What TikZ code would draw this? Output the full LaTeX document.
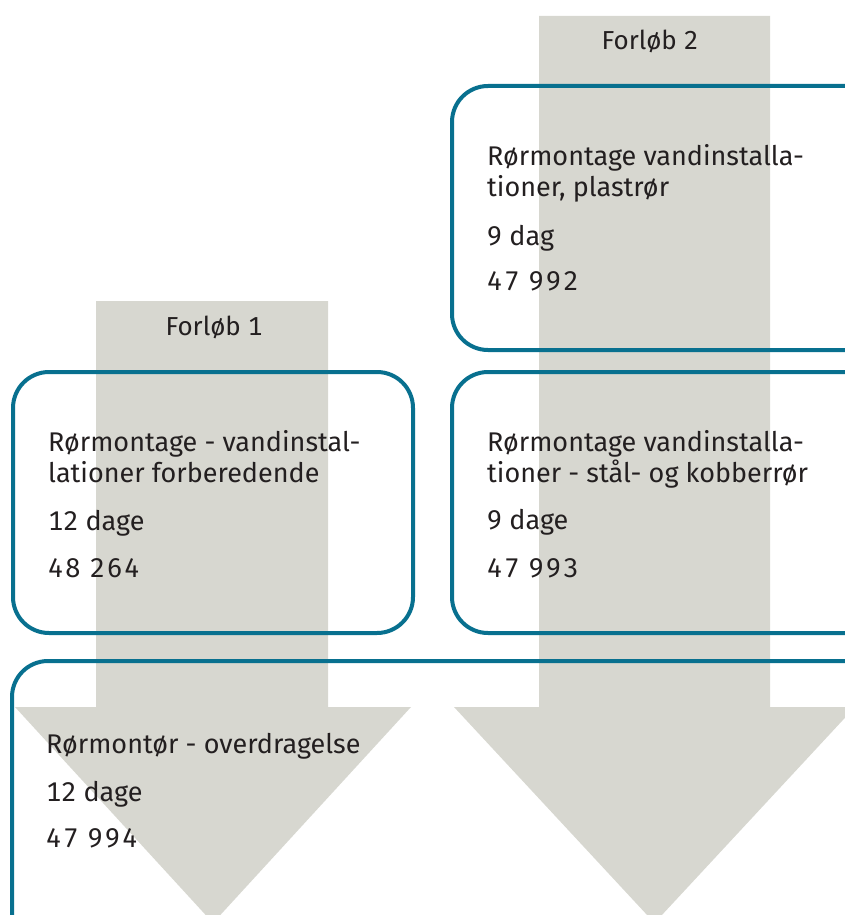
\documentclass[tikz,border=0pt]{standalone}
\usepackage{fontspec}
\setmainfont[Numbers={Lining,Monospaced}]{Fira Sans}
\newfontfamily\numfont[Numbers={Lining,Monospaced},LetterSpace=8]{Fira Sans}
\definecolor{arrowgrey}{HTML}{D7D7D0}
\definecolor{boxteal}{HTML}{08708F}
\definecolor{txt}{HTML}{231F20}
\begin{document}
\begin{tikzpicture}[x=1pt,y=-1pt,
  flow/.style={fill=arrowgrey},
  card/.style={draw=boxteal,line width=4pt,rounded corners=36pt},
  lbl/.style={anchor=base west,inner sep=0pt,text=txt,align=left,
    font=\fontsize{27}{31}\selectfont},
  num/.style={lbl,font=\numfont\fontsize{27}{31}\selectfont},
  head/.style={anchor=base,inner sep=0pt,text=txt,font=\fontsize{26}{31}\selectfont}]
\useasboundingbox (0,0) rectangle (845,915);
\clip (0,0) rectangle (845,915);
% arrows
\fill[flow] (96,301) -- (328,301) -- (328,707) -- (411,707) -- (213,923) -- (15,707) -- (96,707) -- cycle;
\fill[flow] (539,16) -- (770,16) -- (770,707) -- (855,707) -- (654.5,923) -- (454,707) -- (539,707) -- cycle;
% headings
\node[head] (f2) at (650,50) {Forløb 2};
\node[head] (f1) at (214,335) {Forløb 1};
% boxes
\draw[card] (452,86) rectangle (885,350);
\draw[card] (13,372) rectangle (413,633);
\draw[card] (452,372) rectangle (885,633);
\draw[card] (12,661) rectangle (885,960);
% box A (anchor = baseline of last line)
\node[lbl] (a1) at (487,196) {Rørmontage vandinstalla-\\tioner, plastrør};
\node[lbl] (a2) at (487,245) {9 dag};
\node[num] (a3) at (487,290) {47 992};
% box B
\node[lbl] (b1) at (48,482) {Rørmontage - vandinstal-\\lationer forberedende};
\node[lbl] (b2) at (48,530) {12 dage};
\node[num] (b3) at (48,577) {48 264};
% box C
\node[lbl] (c1) at (487,482) {Rørmontage vandinstalla-\\tioner - stål- og kobberrør};
\node[lbl] (c2) at (487,529) {9 dage};
\node[num] (c3) at (487,577) {47 993};
% box D
\node[lbl] (d1) at (46,753) {Rørmontør - overdragelse};
\node[lbl] (d2) at (46,801) {12 dage};
\node[num] (d3) at (46,847) {47 994};
\end{tikzpicture}
\end{document}
